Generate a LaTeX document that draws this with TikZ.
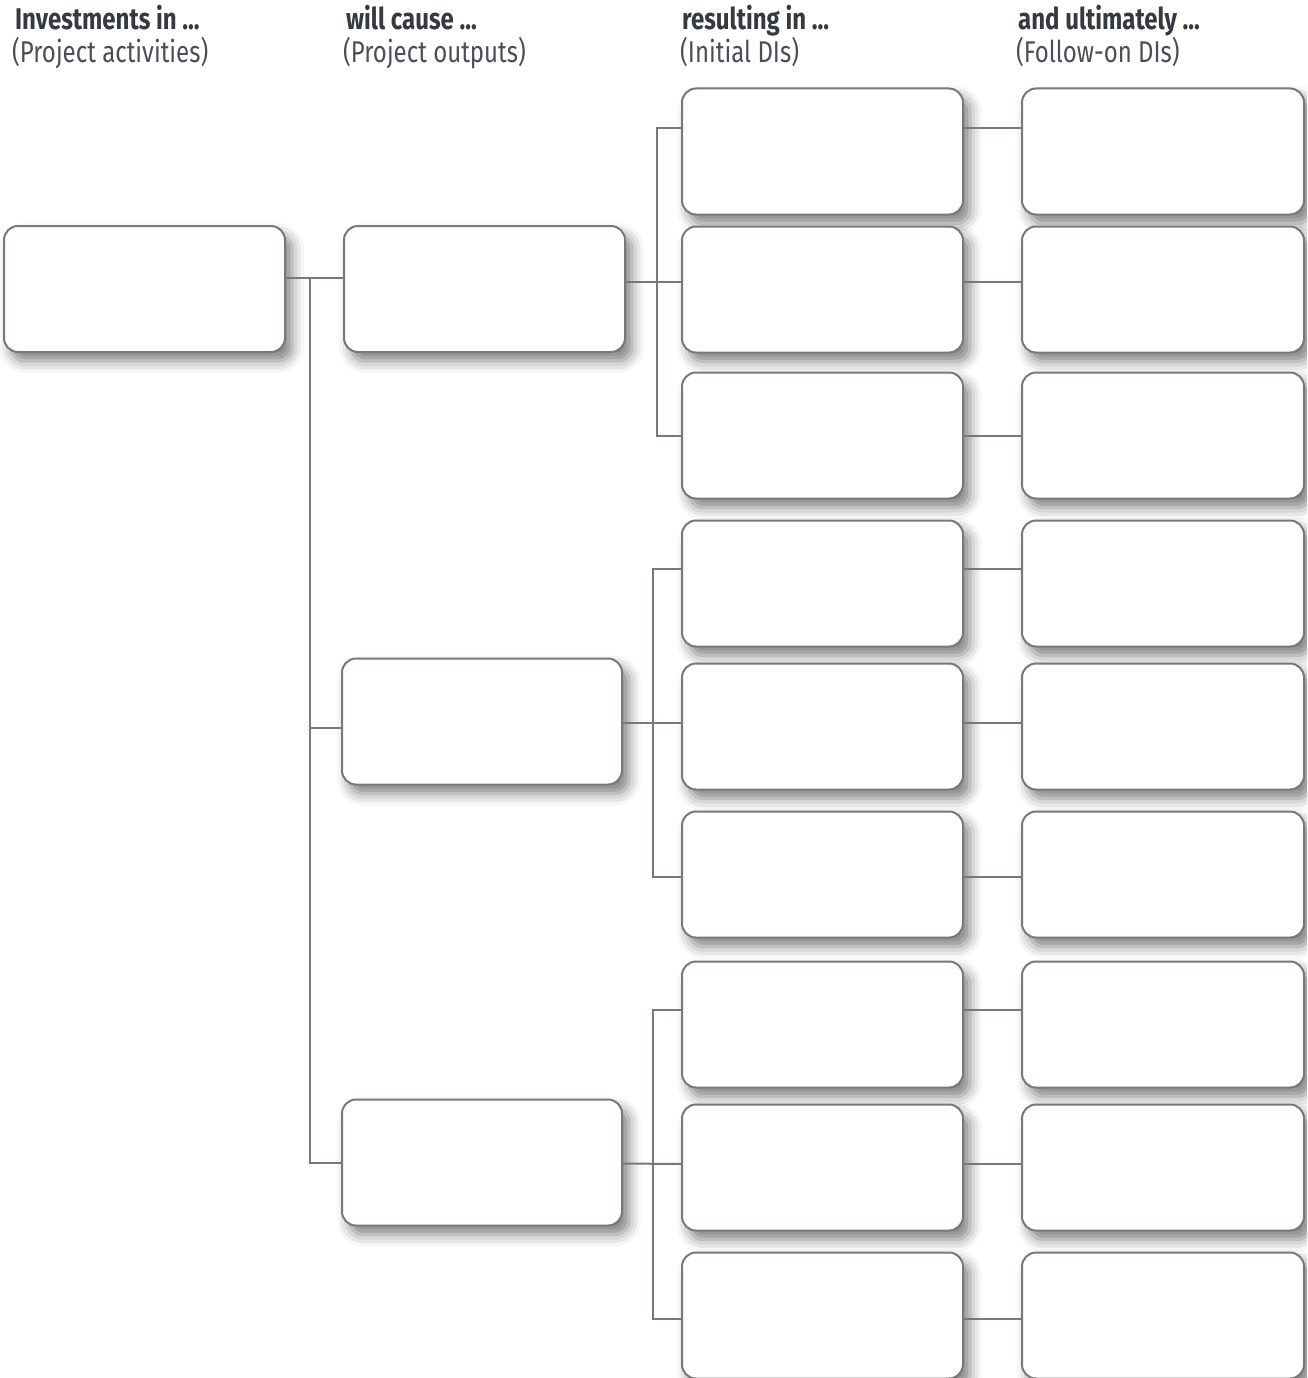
\documentclass[tikz,border=0pt]{standalone}
\usepackage{fontspec}
\newfontfamily\hdrfont[FakeStretch=0.8]{Fira Sans}
\usetikzlibrary{shadows.blur}
\definecolor{edge}{HTML}{7D7677}
\definecolor{hdrdark}{HTML}{343A40}
\definecolor{hdrlight}{HTML}{4A4F55}
\tikzset{
  box/.style={draw=edge, line width=2pt, fill=white, rounded corners=14pt,
    minimum width=281pt, minimum height=126pt, inner sep=0pt,
    blur shadow={shadow xshift=7pt, shadow yshift=-9pt, shadow blur radius=12pt, shadow opacity=50}},
  conn/.style={draw=edge, line width=2pt},
  hdr/.style={anchor=base west, inner sep=0pt, font=\hdrfont\fontsize{30}{33}\selectfont},
}
\begin{document}
\begin{tikzpicture}[x=1pt,y=-1pt]
\useasboundingbox (0,0) rectangle (1307,1378);
\clip (0,0) rectangle (1307,1378);
% headers
\node[hdr, text=hdrdark] (h1a) at (15,30) {\bfseries Investments in ...};
\node[hdr, text=hdrlight] (h1b) at (12,63) {(Project activities)};
\node[hdr, text=hdrdark] (h2a) at (346,30) {\bfseries will cause ...};
\node[hdr, text=hdrlight] (h2b) at (343,63) {(Project outputs)};
\node[hdr, text=hdrdark] (h3a) at (682,30) {\bfseries resulting in ...};
\node[hdr, text=hdrlight] (h3b) at (680,63) {(Initial DIs)};
\node[hdr, text=hdrdark] (h4a) at (1018,30) {\bfseries and ultimately ...};
\node[hdr, text=hdrlight] (h4b) at (1016,63) {(Follow-on DIs)};
% column 1
\node[box] (a) at (144.5,289) {};
% column 2
\node[box] (b1) at (484.5,289) {};
\node[box, minimum width=280pt] (b2) at (482,721.5) {};
\node[box, minimum width=280pt] (b3) at (482,1162.5) {};
% columns 3 and 4
\foreach \i/\y in {1/151.5,2/289.5,3/435.5,4/583.5,5/726.5,6/874.5,7/1024.5,8/1167.5,9/1315.5}{
  \node[box] (c\i) at (822.5,\y) {};
  \node[box, minimum width=282pt] (d\i) at (1163,\y) {};
}
% connectors col1 -> col2
\coordinate (t1) at (310,278);
\draw[conn] ([yshift=11pt]a.east) -- ([yshift=11pt]b1.west);
\draw[conn] (t1) |- ([yshift=-6.5pt]b2.west);
\draw[conn] (t1) |- ([yshift=-0.5pt]b3.west);
% col2 -> col3
\coordinate (t2) at (657,282);
\draw[conn] ([yshift=7pt]b1.east) -- ([yshift=7.5pt]c2.west);
\draw[conn] (t2) |- ([yshift=23.5pt]c1.west);
\draw[conn] (t2) |- ([yshift=0pt]c3.west);
\coordinate (t3) at (653,723);
\draw[conn] ([yshift=-1.5pt]b2.east) -- ([yshift=3.5pt]c5.west);
\draw[conn] (t3) |- ([yshift=14.5pt]c4.west);
\draw[conn] (t3) |- ([yshift=-2.5pt]c6.west);
\coordinate (t4) at (653,1163.5);
\draw[conn] ([yshift=-1pt]b3.east) -- ([yshift=3.5pt]c8.west);
\draw[conn] (t4) |- ([yshift=14.5pt]c7.west);
\draw[conn] (t4) |- ([yshift=-3.5pt]c9.west);
% col3 -> col4
\foreach \i/\s in {1/23.5,2/7.5,3/0,4/14.5,5/3.5,6/-2.5,7/14.5,8/3.5,9/-3.5}{
  \draw[conn] ([yshift=\s pt]c\i.east) -- ([yshift=\s pt]d\i.west);
}
\end{tikzpicture}
\end{document}
